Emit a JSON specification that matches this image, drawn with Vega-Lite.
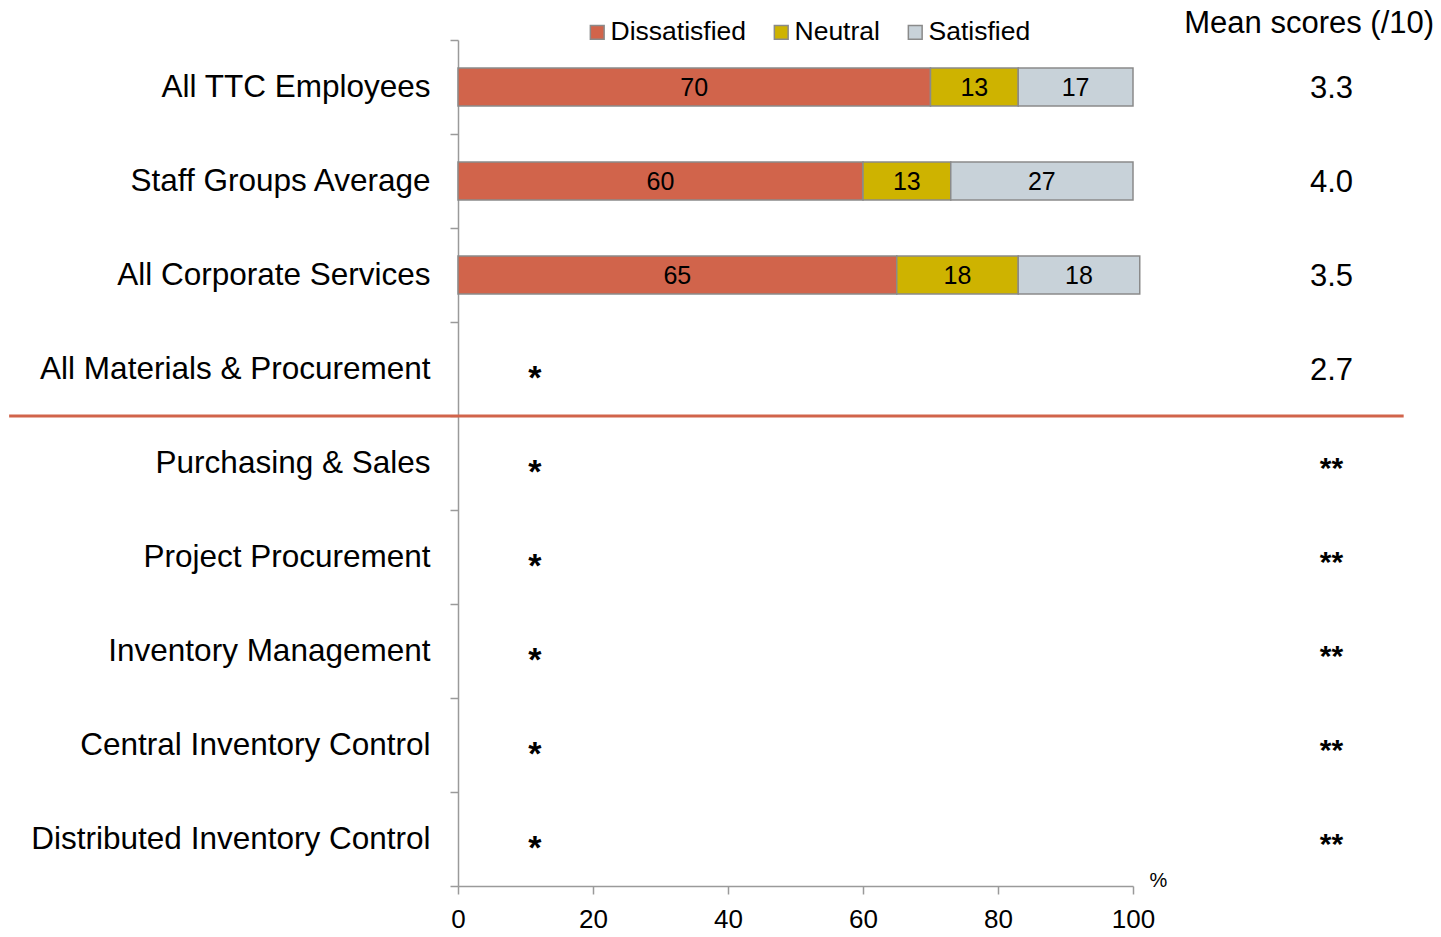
{
  "$schema": "https://vega.github.io/schema/vega-lite/v6.json",
  "width": 675,
  "height": 846,
  "autosize": {"type": "none"},
  "padding": {"left": 458, "top": 40, "right": 308, "bottom": 51},
  "background": "white",
  "config": {
    "font": "Liberation Sans",
    "view": {"stroke": null},
    "text": {"font": "Liberation Sans", "color": "black"}
  },
  "datasets": {
    "bars": [
      {"cat": "All TTC Employees", "resp": "Dissatisfied", "v": 70, "o": 1},
      {"cat": "All TTC Employees", "resp": "Neutral", "v": 13, "o": 2},
      {"cat": "All TTC Employees", "resp": "Satisfied", "v": 17, "o": 3},
      {"cat": "Staff Groups Average", "resp": "Dissatisfied", "v": 60, "o": 1},
      {"cat": "Staff Groups Average", "resp": "Neutral", "v": 13, "o": 2},
      {"cat": "Staff Groups Average", "resp": "Satisfied", "v": 27, "o": 3},
      {"cat": "All Corporate Services", "resp": "Dissatisfied", "v": 65, "o": 1},
      {"cat": "All Corporate Services", "resp": "Neutral", "v": 18, "o": 2},
      {"cat": "All Corporate Services", "resp": "Satisfied", "v": 18, "o": 3}
    ],
    "cats": [
      {"cat": "All TTC Employees", "mean": "3.3"},
      {"cat": "Staff Groups Average", "mean": "4.0"},
      {"cat": "All Corporate Services", "mean": "3.5"},
      {"cat": "All Materials & Procurement", "mean": "2.7", "star": "*"},
      {"cat": "Purchasing & Sales", "star": "*", "mstar": "**"},
      {"cat": "Project Procurement", "star": "*", "mstar": "**"},
      {"cat": "Inventory Management", "star": "*", "mstar": "**"},
      {"cat": "Central Inventory Control", "star": "*", "mstar": "**"},
      {"cat": "Distributed Inventory Control", "star": "*", "mstar": "**"}
    ]
  },
  "encoding": {
    "y": {
      "field": "cat",
      "type": "nominal",
      "title": null,
      "sort": null,
      "scale": {
        "domain": ["All TTC Employees", "Staff Groups Average", "All Corporate Services", "All Materials & Procurement", "Purchasing & Sales", "Project Procurement", "Inventory Management", "Central Inventory Control", "Distributed Inventory Control"],
        "paddingInner": 0,
        "paddingOuter": 0
      },
      "axis": {
        "domainColor": "#9a9a9a",
        "domainWidth": 1.5,
        "tickColor": "#9a9a9a",
        "tickWidth": 1.5,
        "tickSize": 8,
        "tickBand": "extent",
        "labelFontSize": 31.5,
        "labelColor": "black",
        "labelPadding": 20,
        "labelLimit": 600
      }
    }
  },
  "layer": [
    {
      "data": {"name": "bars"},
      "mark": {"type": "bar", "height": 38, "stroke": "#8a8a8a", "strokeWidth": 1.5},
      "encoding": {
        "x": {
          "field": "v",
          "type": "quantitative",
          "stack": "zero",
          "scale": {"domain": [0, 100], "nice": false},
          "axis": {
            "values": [0, 20, 40, 60, 80, 100],
            "grid": false,
            "domainColor": "#9a9a9a",
            "domainWidth": 1.5,
            "tickColor": "#9a9a9a",
            "tickWidth": 1.5,
            "tickSize": 8,
            "labelFlush": false,
            "labelFontSize": 26,
            "labelColor": "black",
            "labelPadding": 12,
            "title": "%",
            "titleFontSize": 20,
            "titleFontWeight": "normal",
            "titleColor": "black",
            "titleAngle": 0,
            "titleAlign": "center",
            "titleBaseline": "middle",
            "titleX": 700,
            "titleY": -6
          }
        },
        "order": {"field": "o"},
        "color": {
          "field": "resp",
          "type": "nominal",
          "scale": {
            "domain": ["Dissatisfied", "Neutral", "Satisfied"],
            "range": ["#d1644b", "#ceb300", "#c8d2d9"]
          },
          "legend": {
            "title": null,
            "orient": "none",
            "direction": "horizontal",
            "legendX": 126,
            "legendY": -21,
            "symbolType": "square",
            "symbolSize": 190,
            "symbolStrokeColor": "#8a8a8a",
            "symbolStrokeWidth": 1.5,
            "symbolOpacity": 1,
            "labelFontSize": 26.5,
            "labelColor": "black",
            "labelOffset": 0,
            "columnPadding": 22
          }
        }
      }
    },
    {
      "data": {"name": "bars"},
      "transform": [
        {"stack": "v", "groupby": ["cat"], "sort": [{"field": "o"}], "as": ["v0", "v1"]},
        {"calculate": "(datum.v0 + datum.v1) / 2", "as": "mid"}
      ],
      "mark": {"type": "text", "fontSize": 25, "baseline": "middle", "align": "center", "dy": 1},
      "encoding": {
        "x": {"field": "mid", "type": "quantitative"},
        "text": {"field": "v"}
      }
    },
    {
      "data": {"name": "cats"},
      "transform": [{"filter": "datum.star"}],
      "mark": {"type": "text", "fontSize": 34, "fontWeight": "bold", "baseline": "middle", "align": "center", "dy": 10},
      "encoding": {
        "x": {"datum": 11.4},
        "text": {"field": "star"}
      }
    },
    {
      "data": {"name": "cats"},
      "transform": [{"filter": "datum.mean"}],
      "mark": {"type": "text", "fontSize": 31, "baseline": "middle", "align": "center", "dy": 2},
      "encoding": {
        "x": {"datum": 129.4},
        "text": {"field": "mean"}
      }
    },
    {
      "data": {"name": "cats"},
      "transform": [{"filter": "datum.mstar"}],
      "mark": {"type": "text", "fontSize": 30, "fontWeight": "bold", "baseline": "middle", "align": "center", "dy": 6},
      "encoding": {
        "x": {"datum": 129.4},
        "text": {"field": "mstar"}
      }
    },
    {
      "data": {"values": [{"cat": "Purchasing & Sales"}]},
      "mark": {"type": "rule", "color": "#d1644b", "strokeWidth": 3, "clip": false},
      "encoding": {
        "y": {"field": "cat", "type": "nominal", "bandPosition": 0},
        "x": {"datum": -66.5},
        "x2": {"datum": 140.1}
      }
    },
    {
      "data": {"values": [{"t": "Mean scores (/10)"}]},
      "mark": {"type": "text", "fontSize": 31, "baseline": "middle", "align": "center", "dy": -63},
      "encoding": {
        "y": {"datum": "All TTC Employees"},
        "x": {"datum": 126.1},
        "text": {"field": "t"}
      }
    }
  ]
}
